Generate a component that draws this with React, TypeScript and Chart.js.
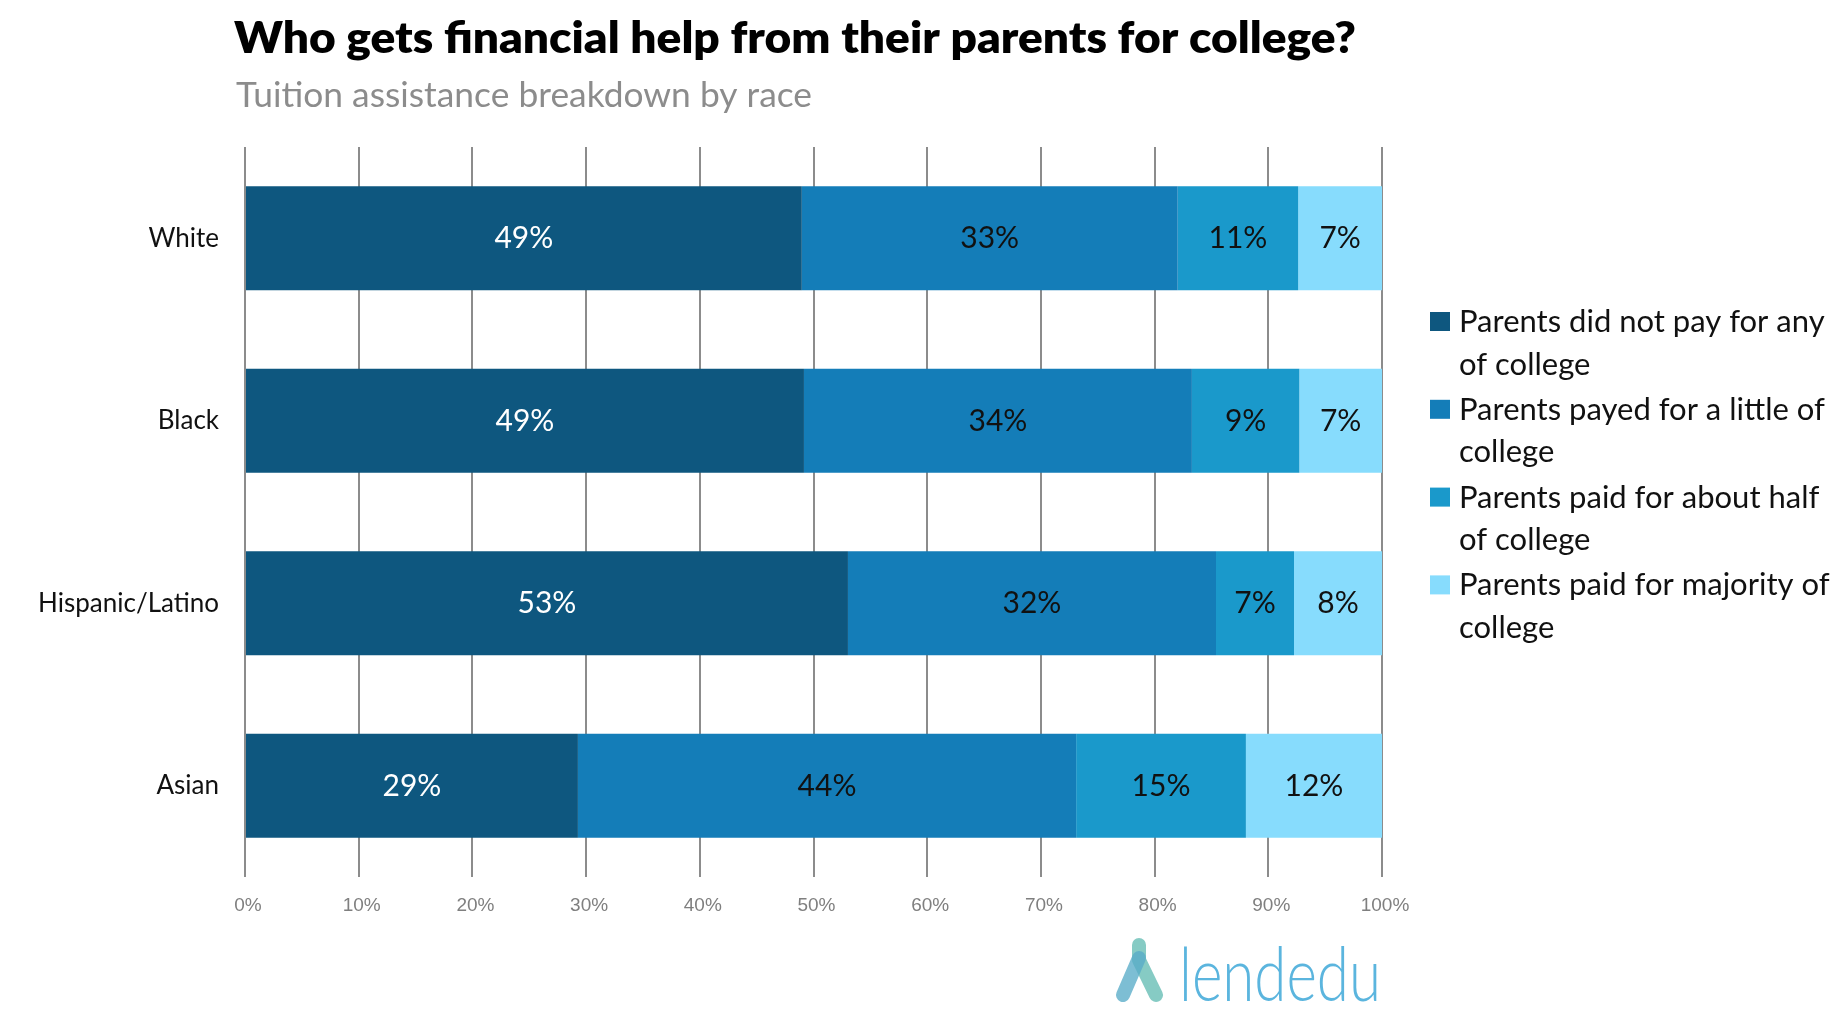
import React, { useEffect, useRef } from 'react';
import { Chart, registerables } from 'chart.js';

Chart.register(...registerables);

if (typeof document !== 'undefined') {
  document.body.style.margin = '0';
}

// ---------- data ----------
const CATEGORIES = ['White', 'Black', 'Hispanic/Latino', 'Asian'];
const NONE_PAID = [48.97, 49.16, 53.03, 29.28];
const LITTLE_PAID = [33.06, 34.12, 32.37, 43.82];
const HALF_PAID = [10.6, 9.45, 6.86, 14.93];
const MAJORITY_PAID = [7.37, 7.27, 7.74, 11.97];

const SERIES_LABELS = [
  'Parents did not pay for any of college',
  'Parents payed for a little of college',
  'Parents paid for about half of college',
  'Parents paid for majority of college',
];
const LEGEND_LINES = [
  ['Parents did not pay for any', 'of college'],
  ['Parents payed for a little of', 'college'],
  ['Parents paid for about half', 'of college'],
  ['Parents paid for majority of', 'college'],
];
const SERIES_COLORS = ['#0e577f', '#147db8', '#1a99cb', '#87dcfd'];
const LABEL_COLORS = ['#ffffff', '#111111', '#111111', '#111111'];

const X_MIN = 0;
const X_MAX = 100;
const X_STEP = 10;

const TITLE = 'Who gets financial help from their parents for college?';
const SUBTITLE = 'Tuition assistance breakdown by race';
const LOGO_TEXT = 'lendedu';

// ---------- layout ----------
const W = 1846;
const H = 1020;
const PLOT_LEFT = 245;
const PLOT_RIGHT = 1382;
const PLOT_TOP = 147;
const PLOT_BOTTOM = 877;

function fitText(ctx: CanvasRenderingContext2D, text: string, x: number, y: number, width: number) {
  const w = ctx.measureText(text).width;
  const s = w > 0 ? width / w : 1;
  ctx.save();
  ctx.translate(x, y);
  ctx.scale(s, 1);
  ctx.fillText(text, 0, 0);
  ctx.restore();
}

const overlayPlugin = {
  id: 'overlay',
  afterDatasetsDraw(chart: any) {
    const ctx: CanvasRenderingContext2D = chart.ctx;
    ctx.save();
    const size = 30;
    ctx.font = `${size}px Lato`;
    ctx.textAlign = 'center';
    ctx.textBaseline = 'alphabetic';
    chart.data.datasets.forEach((ds: any, i: number) => {
      const meta = chart.getDatasetMeta(i);
      meta.data.forEach((bar: any, j: number) => {
        const { x, base, y } = bar.getProps(['x', 'base', 'y'], true);
        const v = ds.data[j] as number;
        ctx.fillStyle = LABEL_COLORS[i];
        ctx.fillText(`${Math.round(v)}%`, (x + base) / 2, y + size * 0.33);
      });
    });
    ctx.restore();
  },
  afterDraw(chart: any) {
    const ctx: CanvasRenderingContext2D = chart.ctx;
    ctx.save();
    ctx.textAlign = 'left';
    ctx.textBaseline = 'alphabetic';

    // title
    ctx.fillStyle = '#000000';
    ctx.font = '800 44px Lato';
    fitText(ctx, TITLE, 234, 53, 1122);

    // subtitle
    ctx.fillStyle = '#8c8c8c';
    ctx.font = '35px Lato';
    fitText(ctx, SUBTITLE, 236, 107, 576);

    // legend
    ctx.font = '31px Lato';
    LEGEND_LINES.forEach((lines, i) => {
      const baseY = 332 + i * 87.8;
      ctx.fillStyle = SERIES_COLORS[i];
      ctx.fillRect(1430, baseY - 20, 20, 19);
      ctx.fillStyle = '#111111';
      lines.forEach((ln, k) => {
        ctx.fillText(ln, 1459, baseY + k * 42.5);
      });
    });

    // logo icon
    ctx.lineCap = 'round';
    ctx.lineJoin = 'round';
    ctx.lineWidth = 14;
    ctx.strokeStyle = 'rgba(100, 188, 180, 0.78)';
    ctx.beginPath();
    ctx.moveTo(1139, 945);
    ctx.lineTo(1139, 960);
    ctx.lineTo(1156, 995);
    ctx.stroke();
    ctx.strokeStyle = 'rgba(88, 172, 200, 0.78)';
    ctx.beginPath();
    ctx.moveTo(1139, 958);
    ctx.lineTo(1123, 995);
    ctx.stroke();

    // logo text
    const grad = ctx.createLinearGradient(1179, 0, 1381, 0);
    grad.addColorStop(0, '#5bb5de');
    grad.addColorStop(0.48, '#5bb5de');
    grad.addColorStop(0.58, '#4fae8c');
    grad.addColorStop(1, '#4fae8c');
    ctx.fillStyle = grad;
    ctx.font = '300 74px Lato';
    fitText(ctx, LOGO_TEXT, 1179, 1001, 202);

    ctx.restore();
  },
};

export default function App() {
  const ref = useRef<HTMLCanvasElement | null>(null);

  useEffect(() => {
    if (!ref.current) return;
    const seriesData = [NONE_PAID, LITTLE_PAID, HALF_PAID, MAJORITY_PAID];
    const chart = new Chart(ref.current, {
      type: 'bar',
      data: {
        labels: CATEGORIES,
        datasets: seriesData.map((d, i) => ({
          label: SERIES_LABELS[i],
          data: d,
          backgroundColor: SERIES_COLORS[i],
          borderWidth: 0,
          barPercentage: 0.57,
          categoryPercentage: 1,
        })),
      },
      options: {
        responsive: false,
        animation: false,
        indexAxis: 'y',
        layout: {
          padding: { top: PLOT_TOP, right: W - PLOT_RIGHT, bottom: 0, left: 0 },
        },
        plugins: {
          legend: { display: false },
          title: { display: false },
          tooltip: { enabled: false },
        },
        scales: {
          x: {
            stacked: true,
            min: X_MIN,
            max: X_MAX,
            position: 'bottom',
            ticks: {
              stepSize: X_STEP,
              callback: (v: any) => `${v}%`,
              color: '#7f7f7f',
              font: { family: 'Liberation Sans', size: 19 },
              padding: 17,
              labelOffset: 3,
              maxRotation: 0,
              autoSkip: false,
            },
            grid: { color: '#8c8c8c', lineWidth: 2, drawTicks: false },
            border: { display: false },
            afterFit: (s: any) => {
              s.height = H - PLOT_BOTTOM;
            },
          },
          y: {
            stacked: true,
            ticks: {
              color: '#111111',
              font: { family: 'Lato', size: 26 },
              padding: 26,
            },
            grid: { display: false, drawTicks: false },
            border: { display: false },
            afterFit: (s: any) => {
              s.width = PLOT_LEFT;
            },
          },
        },
      } as any,
      plugins: [overlayPlugin],
    });
    return () => chart.destroy();
  }, []);

  return (
    <div style={{ width: W, height: H, background: '#ffffff' }}>
      <canvas ref={ref} width={W} height={H} style={{ display: 'block' }} />
    </div>
  );
}
